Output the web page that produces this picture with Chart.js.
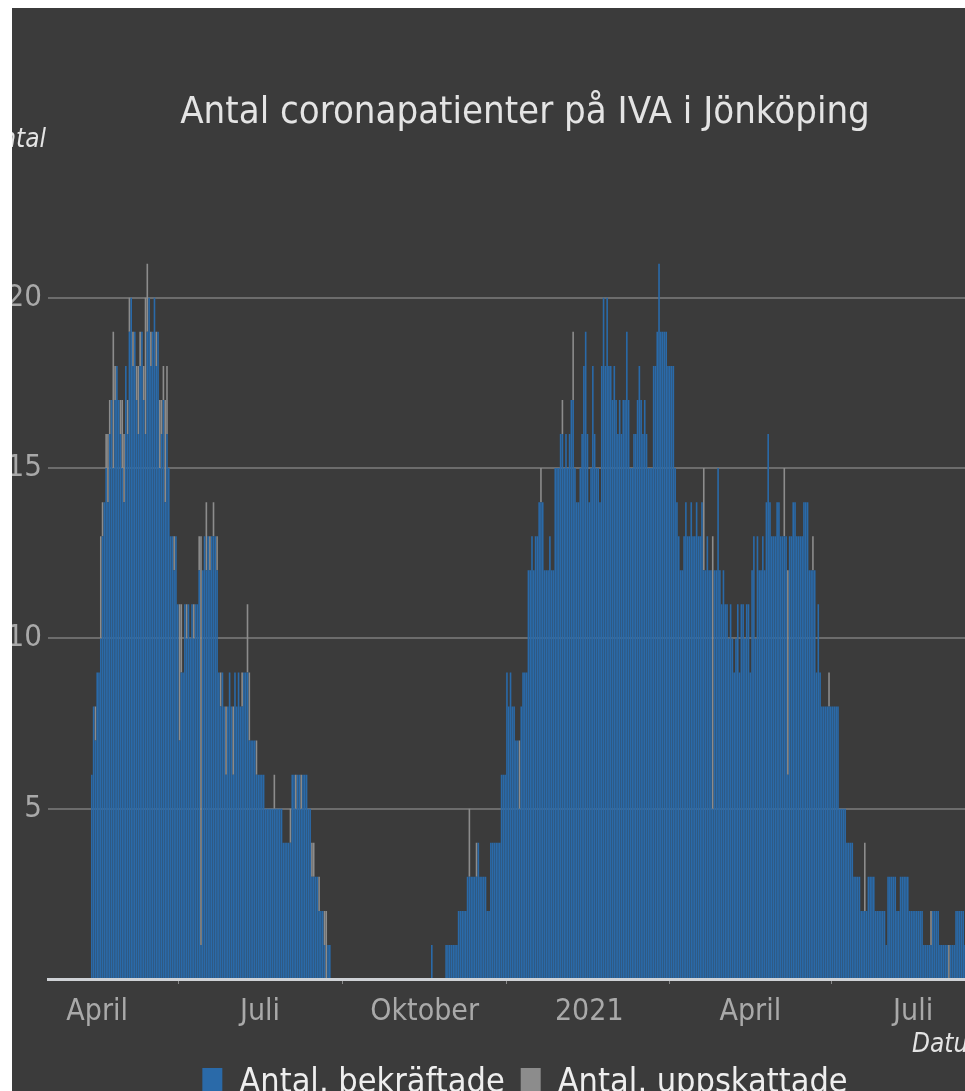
<!DOCTYPE html>
<html lang="sv">
<head>
<meta charset="utf-8">
<title>Antal coronapatienter på IVA i Jönköping</title>
<script src="https://cdn.jsdelivr.net/npm/chart.js@4.4.1/dist/chart.umd.min.js"></script>
<style>
  html, body { margin: 0; padding: 0; background: #ffffff; }
  #frame {
    position: absolute; left: 12px; top: 8px;
    width: 953px; height: 1083px;
    overflow: hidden; background: #3b3b3b;
  }
  #wrap {
    position: absolute; left: -12px; top: -8px;
    width: 1050px; height: 1110px;
  }
</style>
</head>
<body>
<div id="frame">
  <div id="wrap"><canvas id="chart"></canvas></div>
</div>
<script>
const fontFamily = "'Liberation Sans Narrow', 'Arial Narrow', 'DejaVu Sans Condensed', Roboto, sans-serif";

// x axis: one category per day
const firstDay = '2020-03-05';
const dayCount = 560;

const tickDates = ['2020-04-01', '2020-07-01', '2020-10-01', '2021-01-01', '2021-04-01', '2021-07-01'];
const tickLabels = ['April', 'Juli', 'Oktober', '2021', 'April', 'Juli'];

// first wave, daily values from 2020-03-29
const wave1Start = '2020-03-29';
const wave1Confirmed = [
  6, 8, 7, 9, 9, 10, 13, 14, 15, 14,
  16, 17, 15, 17, 18, 17, 16, 15, 14, 18,
  16, 19, 20, 18, 19, 17, 16, 18, 19, 17,
  16, 19, 20, 18, 19, 20, 18, 19, 15, 16,
  17, 14, 16, 15, 13, 13, 12, 13, 11, 7,
  9, 9, 11, 10, 11, 10, 11, 10, 11, 11,
  12, 1, 12, 13, 12, 13, 12, 13, 13, 13,
  12, 9, 8, 9, 8, 6, 8, 9, 8, 6,
  9, 8, 9, 8, 8, 9, 9, 9, 7, 7,
  7, 7, 6, 6, 6, 6, 6, 5, 5, 5,
  5, 5, 5, 5, 5, 5, 5, 4, 4, 4,
  4, 4, 6, 6, 5, 6, 6, 5, 6, 6,
  6, 5, 5, 3, 3, 3, 3, 2, 2, 2,
  1, 0, 1, 1
];
const wave1Estimated = [
  0, 0, 1, 0, 0, 3, 1, 0, 1, 2,
  1, 0, 4, 1, 0, 0, 1, 2, 2, 0,
  1, 1, 0, 1, 0, 1, 2, 1, 0, 1,
  4, 2, 0, 1, 0, 0, 1, 0, 2, 1,
  1, 3, 2, 0, 0, 0, 1, 0, 0, 4,
  2, 0, 0, 1, 0, 0, 0, 1, 0, 0,
  1, 12, 0, 0, 2, 0, 1, 0, 1, 0,
  1, 0, 1, 0, 0, 2, 0, 0, 0, 2,
  0, 0, 0, 0, 1, 0, 0, 2, 2, 0,
  0, 0, 1, 0, 0, 0, 0, 0, 0, 0,
  0, 0, 1, 0, 0, 0, 0, 0, 0, 0,
  0, 1, 0, 0, 1, 0, 0, 1, 0, 0,
  0, 0, 0, 1, 1, 0, 0, 1, 0, 0,
  1, 2, 0, 0
];

// second wave, daily values from 2020-10-05
const wave2Start = '2020-10-05';
const wave2Confirmed = [
  1, 0, 0, 0, 0, 0, 0, 0, 1, 1,
  1, 1, 1, 1, 1, 2, 2, 2, 2, 2,
  3, 3, 3, 3, 3, 3, 4, 3, 3, 3,
  3, 2, 2, 4, 4, 4, 4, 4, 4, 6,
  6, 6, 9, 8, 9, 8, 8, 7, 7, 5,
  8, 9, 9, 9, 12, 12, 13, 12, 13, 13,
  14, 14, 14, 12, 12, 12, 13, 12, 12, 15,
  15, 15, 16, 16, 15, 16, 15, 16, 17, 17,
  15, 14, 14, 15, 16, 18, 19, 16, 14, 15,
  18, 16, 15, 15, 14, 18, 20, 18, 20, 18,
  18, 17, 18, 17, 16, 17, 16, 17, 17, 19,
  17, 15, 15, 16, 16, 17, 18, 17, 16, 17,
  16, 15, 15, 15, 18, 18, 19, 21, 19, 19,
  19, 19, 18, 18, 18, 18, 15, 14, 13, 12,
  12, 13, 14, 13, 13, 14, 13, 13, 14, 13,
  13, 14, 12, 12, 13, 12, 12, 5, 12, 12,
  15, 12, 11, 12, 11, 11, 10, 11, 10, 9,
  10, 11, 9, 11, 11, 10, 11, 11, 9, 12,
  13, 10, 13, 12, 12, 13, 12, 14, 16, 14,
  13, 13, 13, 14, 14, 13, 13, 13, 13, 6,
  13, 13, 14, 14, 13, 13, 13, 13, 14, 14,
  14, 12, 12, 12, 12, 9, 11, 9, 8, 8,
  8, 8, 8, 8, 8, 8, 8, 8, 5, 5,
  5, 5, 4, 4, 4, 4, 3, 3, 3, 3,
  2, 2, 2, 2, 3, 3, 3, 3, 2, 2,
  2, 2, 2, 2, 1, 3, 3, 3, 3, 3,
  2, 2, 3, 3, 3, 3, 3, 2, 2, 2,
  2, 2, 2, 2, 2, 1, 1, 1, 1, 1,
  2, 2, 2, 2, 1, 1, 1, 1, 1, 0,
  1, 1, 1, 2, 2, 2, 2, 2, 1, 2,
  1, 1, 1, 0, 1, 1, 1
];
const wave2Estimated = [
  0, 0, 0, 0, 0, 0, 0, 0, 0, 0,
  0, 0, 0, 0, 0, 0, 0, 0, 0, 0,
  0, 2, 0, 0, 0, 1, 0, 0, 0, 0,
  0, 0, 0, 0, 0, 0, 0, 0, 0, 0,
  0, 0, 0, 0, 0, 0, 0, 0, 0, 2,
  0, 0, 0, 0, 0, 0, 0, 0, 0, 0,
  0, 1, 0, 0, 0, 0, 0, 0, 0, 0,
  0, 0, 0, 1, 0, 0, 0, 0, 0, 2,
  0, 0, 0, 0, 0, 0, 0, 0, 0, 0,
  0, 0, 0, 0, 0, 0, 0, 0, 0, 0,
  0, 0, 0, 0, 0, 0, 0, 0, 0, 0,
  0, 0, 0, 0, 0, 0, 0, 0, 0, 0,
  0, 0, 0, 0, 0, 0, 0, 0, 0, 0,
  0, 0, 0, 0, 0, 0, 0, 0, 0, 0,
  0, 0, 0, 0, 0, 0, 0, 0, 0, 0,
  0, 0, 3, 0, 0, 0, 0, 8, 0, 0,
  0, 0, 0, 0, 0, 0, 0, 0, 0, 0,
  0, 0, 0, 0, 0, 0, 0, 0, 0, 0,
  0, 0, 0, 0, 0, 0, 0, 0, 0, 0,
  0, 0, 0, 0, 0, 0, 0, 2, 0, 6,
  0, 0, 0, 0, 0, 0, 0, 0, 0, 0,
  0, 0, 0, 1, 0, 0, 0, 0, 0, 0,
  0, 0, 1, 0, 0, 0, 0, 0, 0, 0,
  0, 0, 0, 0, 0, 0, 0, 0, 0, 0,
  0, 0, 2, 0, 0, 0, 0, 0, 0, 0,
  0, 0, 0, 0, 0, 0, 0, 0, 0, 0,
  0, 0, 0, 0, 0, 0, 0, 0, 0, 0,
  0, 0, 0, 0, 0, 0, 0, 0, 0, 1,
  0, 0, 0, 0, 0, 0, 0, 0, 0, 1,
  0, 0, 0, 0, 0, 0, 0, 0, 0, 0,
  0, 0, 0, 0, 0, 0, 0
];

// build the daily category list
const labels = [];
const t0 = Date.parse(firstDay + 'T00:00:00Z');
for (let i = 0; i < dayCount; i++) {
  labels.push(new Date(t0 + i * 86400000).toISOString().slice(0, 10));
}

function placeWave(target, start, values) {
  const offset = labels.indexOf(start);
  values.forEach((v, k) => { target[offset + k] = v; });
}

const confirmed = new Array(dayCount).fill(0);
const estimated = new Array(dayCount).fill(0);
placeWave(confirmed, wave1Start, wave1Confirmed);
placeWave(estimated, wave1Start, wave1Estimated);
placeWave(confirmed, wave2Start, wave2Confirmed);
placeWave(estimated, wave2Start, wave2Estimated);

const tickIndex = tickDates.map(d => labels.indexOf(d));

// axis titles are horizontal in the original, so draw them by hand
const axisTitles = {
  id: 'axisTitles',
  afterDraw(chart) {
    const { ctx, chartArea } = chart;
    ctx.save();
    ctx.font = 'italic 26px ' + fontFamily;
    ctx.fillStyle = '#e4e4e4';
    ctx.textBaseline = 'middle';
    ctx.textAlign = 'right';
    ctx.fillText('Antal', chartArea.left - 2, 140);
    ctx.textAlign = 'left';
    ctx.fillText('Datum', 912, 1045);
    ctx.restore();
  }
};

Chart.defaults.font.family = fontFamily;

new Chart(document.getElementById('chart'), {
  type: 'bar',
  data: {
    labels: labels,
    datasets: [
      {
        label: 'Antal, bekräftade',
        data: confirmed,
        backgroundColor: '#2a6aa9',
        borderWidth: 0,
        barPercentage: 0.9,
        categoryPercentage: 1
      },
      {
        label: 'Antal, uppskattade',
        data: estimated,
        backgroundColor: '#8c8c8c',
        borderWidth: 0,
        barPercentage: 0.9,
        categoryPercentage: 1
      }
    ]
  },
  options: {
    responsive: true,
    maintainAspectRatio: false,
    animation: false,
    layout: { padding: 0 },
    scales: {
      x: {
        stacked: true,
        afterBuildTicks: scale => {
          scale.ticks = scale.ticks.filter(t => tickIndex.includes(t.value));
        },
        afterFit: scale => { scale.height = 71; },
        ticks: {
          autoSkip: false,
          maxRotation: 0,
          padding: 10,
          color: '#a9a9a9',
          font: { size: 30 },
          callback: value => tickLabels[tickIndex.indexOf(value)]
        },
        grid: {
          drawOnChartArea: false,
          drawTicks: true,
          tickLength: 5,
          color: '#8a8a8a',
          lineWidth: 1
        },
        border: { color: '#cfd2d6', width: 3, z: 2 }
      },
      y: {
        stacked: true,
        min: 0,
        max: 23,
        z: 1,
        afterBuildTicks: scale => {
          scale.ticks = scale.ticks.filter(t => t.value % 5 === 0);
        },
        afterFit: scale => { scale.width = 48; },
        ticks: {
          stepSize: 5,
          padding: 6,
          color: '#a9a9a9',
          font: { size: 31 },
          callback: value => (value === 0 ? '' : value)
        },
        grid: {
          color: 'rgba(255,255,255,0.25)',
          lineWidth: 2,
          drawTicks: false
        },
        border: { display: false }
      }
    },
    plugins: {
      title: {
        display: true,
        text: 'Antal coronapatienter på IVA i Jönköping',
        color: '#e4e4e4',
        font: { size: 38, weight: 'normal' },
        padding: { top: 90, bottom: 60 }
      },
      legend: {
        position: 'bottom',
        labels: {
          color: '#eeeeee',
          font: { size: 34 },
          boxWidth: 20,
          boxHeight: 30,
          padding: 16
        }
      },
      tooltip: { enabled: false }
    }
  },
  plugins: [axisTitles]
});
</script>
</body>
</html>
